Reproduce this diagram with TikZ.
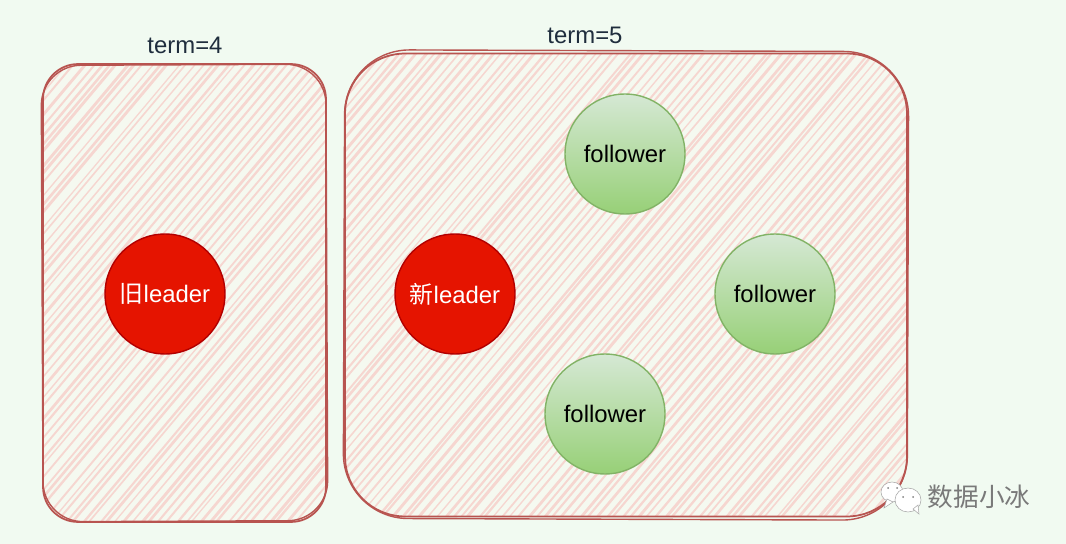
\documentclass[tikz,border=0pt]{standalone}
\usepackage{fontspec}
\setmainfont{Liberation Sans}
\newfontfamily\cjk{Noto Sans CJK SC}
\definecolor{pagebg}{HTML}{F1FAF1}
\definecolor{boxbg}{HTML}{F5F9F0}
\definecolor{hatchred}{HTML}{F6D6D0}
\definecolor{sketchred}{HTML}{B85450}
\definecolor{leaderred}{HTML}{E51400}
\definecolor{leaderedge}{HTML}{B20000}
\definecolor{followertop}{HTML}{D5E8D4}
\definecolor{followerbottom}{HTML}{97D077}
\definecolor{followeredge}{HTML}{82B366}
\definecolor{termblue}{HTML}{1F2D3D}
\tikzset{
    hatchline/.style={hatchred, line width=1.2pt},
    termbox/.style={draw=sketchred, line width=1pt, fill=boxbg, inner sep=0pt,
        path picture={
            \foreach \k in {0,...,125}
                \draw[hatchline, line width={(0.7+rnd*1)*1pt}] ([xshift={-9.8cm+\k*0.17cm+rnd*0.1cm}]path picture bounding box.south west) -- ++(470,-560);
        }},
    sketchline/.style={draw=sketchred, line width=0.8pt},
    termlabel/.style={text=termblue, font=\fontsize{13.6}{16}\selectfont},
    leader/.style={circle, draw=leaderedge, fill=leaderred, line width=0.8pt, minimum size=2.4cm, inner sep=0pt,
        text=white, font=\fontsize{13.6}{16}\selectfont},
    follower/.style={circle, draw=followeredge, top color=followertop, middle color=followertop!75!followerbottom, bottom color=followerbottom,
        line width=0.8pt, minimum size=2.4cm, inner sep=0pt, font=\fontsize{13.6}{16}\selectfont},
    bubble/.style={draw=gray!70, fill=white, line width=0.3pt}
}
\pgfmathsetseed{7}
\begin{document}
\begin{tikzpicture}[x=0.02cm, y=-0.02cm]
    \fill[pagebg] (0,0) rectangle (1066,544);

    % Старый срок
    \node[termbox, rounded corners=0.7cm, minimum width=5.66cm, minimum height=9.16cm] (oldterm) at (184.5,293) {};
    \draw[sketchline, rounded corners=0.8cm, rotate around={0.25:(oldterm.center)}] ([shift={(1,-1)}]oldterm.south west) rectangle ([shift={(-1,1)}]oldterm.north east);
    \node[termlabel] (oldlabel) at (185,45) {term=4};
    \node[leader] (oldleader) at (165,294) {{\cjk 旧}leader};

    % Новый срок
    \node[termbox, rounded corners=1.2cm, minimum width=11.24cm, minimum height=9.26cm] (newterm) at (626,285) {};
    \draw[sketchline, rounded corners=1.3cm, rotate around={-0.2:(newterm.center)}] ([shift={(-1,1)}]newterm.south west) rectangle ([shift={(1,-1)}]newterm.north east);
    \node[termlabel] (newlabel) at (585,35) {term=5};
    \node[leader] (newleader) at (455,294) {{\cjk 新}leader};
    \node[follower] (followera) at (625,154) {follower};
    \node[follower] (followerb) at (775,294) {follower};
    \node[follower] (followerc) at (605,414) {follower};

    % Подпись
    \filldraw[bubble] (892,492) ellipse (11 and 10);
    \filldraw[bubble] (887,499) -- (884,508) -- (893,502) -- cycle;
    \filldraw[bubble] (908,500) ellipse (13 and 12);
    \filldraw[bubble] (913,509) -- (919,514) -- (918,505) -- cycle;
    \fill[gray] (888,488) circle (1) (897,488) circle (1) (903,497) circle (1) (913,497) circle (1);
    \node[text=gray!95!black, font=\cjk\fontsize{14.6}{16}\selectfont] (mark) at (979,497) {数据小冰};
\end{tikzpicture}
\end{document}
